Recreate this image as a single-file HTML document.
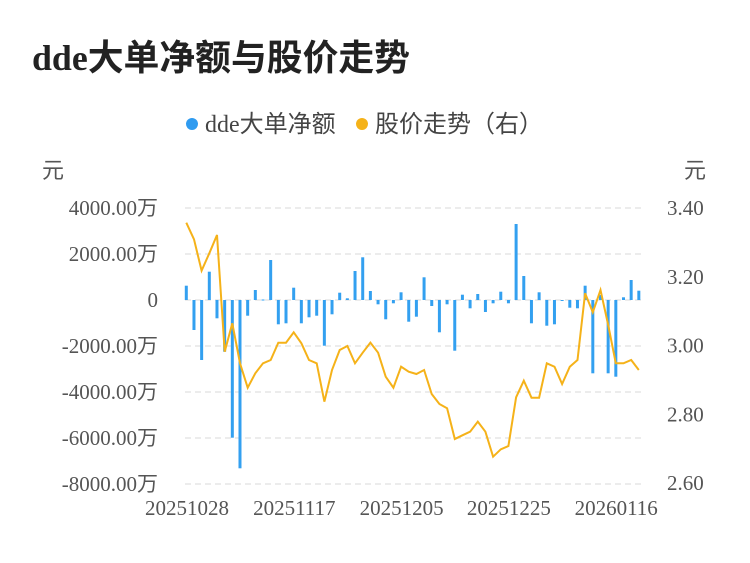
<!DOCTYPE html>
<html><head><meta charset="utf-8"><style>
body{margin:0;background:#fff;}
svg text{font-family:"Liberation Serif","Noto Sans CJK SC",serif;}
</style></head><body>
<svg id="s" width="750" height="558" xmlns="http://www.w3.org/2000/svg">
<text x="32" y="70" font-size="36" font-weight="bold" fill="#222" textLength="378" lengthAdjust="spacingAndGlyphs">dde大单净额与股价走势</text>
<circle cx="192" cy="124" r="6" fill="#2f9bf0"/>
<text x="205" y="132" font-size="24" fill="#444">dde大单净额</text>
<circle cx="362" cy="124" r="6" fill="#f5b219"/>
<text x="375" y="132" font-size="24" fill="#444">股价走势（右）</text>
<text x="42" y="178" font-size="22" fill="#555">元</text>
<text x="684" y="178" font-size="22" fill="#555">元</text>
<g id="g"></g>
</svg>
<script>
var g=document.getElementById('g'),h='';
var L=['4000.00万','2000.00万','0','-2000.00万','-4000.00万','-6000.00万','-8000.00万'];
var R=['3.40','3.20','3.00','2.80','2.60'];
for(var i=0;i<7;i++){var y=208+46*i;
h+='<line x1="185" x2="641" y1="'+y+'" y2="'+y+'" stroke="#e6e6e6" stroke-width="1.5" stroke-dasharray="6,4"/>';
h+='<text x="158" y="'+(y+7)+'" font-size="21" fill="#555" text-anchor="end">'+L[i]+'</text>';}
for(var i=0;i<5;i++){var y=208+68.75*i;h+='<text x="667" y="'+(y+7)+'" font-size="21" fill="#555">'+R[i]+'</text>';}
var X=['20251028','20251117','20251205','20251225','20260116'];
for(var i=0;i<5;i++)h+='<text x="'+(187+107.3*i)+'" y="515" font-size="21" fill="#555" text-anchor="middle">'+X[i]+'</text>';
var B=[14.3,-30,-60,28.3,-18.3,-51.7,-137.7,-168.3,-15.7,10,0.5,40,-24.3,-23.3,12.3,-23.3,-17.3,-15.7,-45.7,-14.3,7.3,1.7,29,42.7,9,-4.3,-19.3,-3.3,7.7,-21.7,
-16.7,22.7,-6,-32.3,-4.3,-50.7,5.3,-8.3,6,-12,-3.3,8.3,-3.3,76,24,-23.3,7.7,-25.7,-24.3,-1,-7.7,-8.3,14.3,-73.3,5,-73.3,-76.7,2.7,20,9.3];
var P=[68,118,212,160,105,455,370,490,563,520,490,480,428,428,397,430,480,490,605,510,450,438,490,458,428,458,530,563,500,515,
522,510,582,612,625,717,706,695,665,695,770,748,738,592,542,593,593,490,500,552,500,480,280,337,270,375,490,490,480,510];
var pts=[];
for(var i=0;i<60;i++){var x=186.3+i*7.67,v=B[i];
var y=v>0?300-v:300,hh=Math.max(Math.abs(v),1);
h+='<rect x="'+(x-1.5)+'" y="'+y+'" width="3" height="'+hh+'" fill="#33a0f0"/>';
pts.push(x.toFixed(1)+','+(200+P[i]/3).toFixed(1));}
h+='<polyline points="'+pts.join(' ')+'" fill="none" stroke="#f5b219" stroke-width="2"/>';
g.innerHTML=h;
</script>
</body></html>
